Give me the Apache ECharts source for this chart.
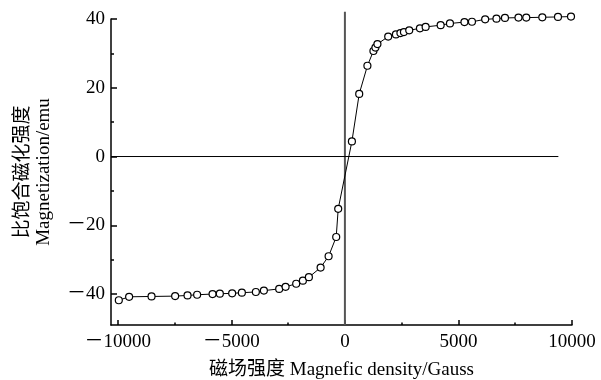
<!DOCTYPE html>
<html>
<head>
<meta charset="utf-8">
<script src="https://cdn.jsdelivr.net/npm/echarts@6/dist/echarts.min.js"></script>
<style>html,body{margin:0;padding:0;background:#fff;}#c{width:601px;height:380px;}</style>
</head>
<body>
<div id="c"></div>
<script>
var fieldX = [-9956,-9502,-8515,-7476,-6930,-6507,-5828,-5507,-4965,-4537,-3921,-3568,-2894,-2612,-2145,-1850,-1586,-1070,-718,-383,-295,308,630,991,1256,1344,1432,1907,2247,2445,2599,2833,3304,3555,4216,4626,5264,5595,6176,6674,7048,7643,7987,8692,9383,9956];
var magnetY = [-41.8,-40.8,-40.7,-40.6,-40.4,-40.2,-40.0,-39.9,-39.8,-39.6,-39.4,-39.0,-38.5,-37.9,-37.0,-36.1,-35.1,-32.3,-29.0,-23.4,-15.2,4.4,18.2,26.4,30.7,31.7,32.7,34.9,35.5,35.9,36.2,36.7,37.3,37.7,38.2,38.7,39.1,39.2,39.9,40.1,40.3,40.4,40.4,40.5,40.6,40.7];
var xMajorTicks = [-10000,-5000,0,5000,10000];
var xMinorTicks = [-7500,-2500,2500,7500];
var yMajorTicks = [-40,-20,0,20,40];
var yMinorTicks = [-30,-10,10,30];
var xTitle = '磁场强度 Magnefic density/Gauss';
var yTitle = '比饱合磁化强度\nMagnetization/emu';
var zeroVLine = [[0, 42.1], [0, -49]];
var zeroHLine = [[-10300, 0], [9400, 0]];

var XMIN = -10300, XMAX = 10000, YMIN = -49, YMAX = 40;
var font = '"Liberation Serif","Times New Roman","Noto Sans CJK SC",serif';
function fmt(v){ return v < 0 ? '－' + Math.abs(v) : String(v); }

var data = fieldX.map(function(x,i){ return [x, magnetY[i]]; });

function tickAxis(min, max, pos, vals, len){
  return {
    type: 'value', min: min, max: max, position: pos,
    axisLine: { show: false, onZero: false },
    axisTick: { show: true, inside: true, length: len, customValues: vals, lineStyle: { color: '#000', width: 1.5 } },
    axisLabel: { show: false }, splitLine: { show: false }
  };
}

var chart = echarts.init(document.getElementById('c'));
chart.setOption({
  animation: false,
  backgroundColor: '#fff',
  grid: { left: 111, right: 29, top: 19, bottom: 55, outerBoundsMode: 'none', containLabel: false },
  xAxis: [{
    type: 'value', min: XMIN, max: XMAX, position: 'bottom',
    name: xTitle, nameLocation: 'middle', nameGap: 36,
    nameTextStyle: { fontFamily: font, fontSize: 19, color: '#000' },
    axisLine: { show: true, onZero: false, lineStyle: { color: '#000', width: 1.5 } },
    axisTick: { show: false },
    axisLabel: { customValues: xMajorTicks, formatter: fmt, fontFamily: font, fontSize: 19, color: '#000', margin: 8 },
    splitLine: { show: false }
  },
  tickAxis(XMIN, XMAX, 'bottom', xMajorTicks, 5),
  tickAxis(XMIN, XMAX, 'bottom', xMinorTicks, 2.5)
  ],
  yAxis: [{
    type: 'value', min: YMIN, max: YMAX, position: 'left',
    name: yTitle, nameLocation: 'middle', nameGap: 56, nameRotate: 90,
    nameTextStyle: { fontFamily: font, fontSize: 19, color: '#000', lineHeight: 21 },
    axisLine: { show: true, onZero: false, lineStyle: { color: '#000', width: 1.5 } },
    axisTick: { show: false },
    axisLabel: { customValues: yMajorTicks, formatter: fmt, fontFamily: font, fontSize: 19, color: '#000', margin: 6 },
    splitLine: { show: false }
  },
  tickAxis(YMIN, YMAX, 'left', yMajorTicks, 6),
  tickAxis(YMIN, YMAX, 'left', yMinorTicks, 3)
  ],
  series: [{
    type: 'line', data: zeroVLine, clip: false, symbol: 'none', silent: true,
    lineStyle: { color: '#555', width: 2 }, z: 2
  },{
    type: 'line', data: zeroHLine, clip: false, symbol: 'none', silent: true,
    lineStyle: { color: '#000', width: 1 }, z: 2
  },{
    type: 'line', data: data, clip: false,
    symbol: 'circle', symbolSize: 7,
    itemStyle: { color: '#fff', borderColor: '#000', borderWidth: 1.2 },
    lineStyle: { color: '#000', width: 1 },
    z: 5
  }]
});
</script>
</body>
</html>
